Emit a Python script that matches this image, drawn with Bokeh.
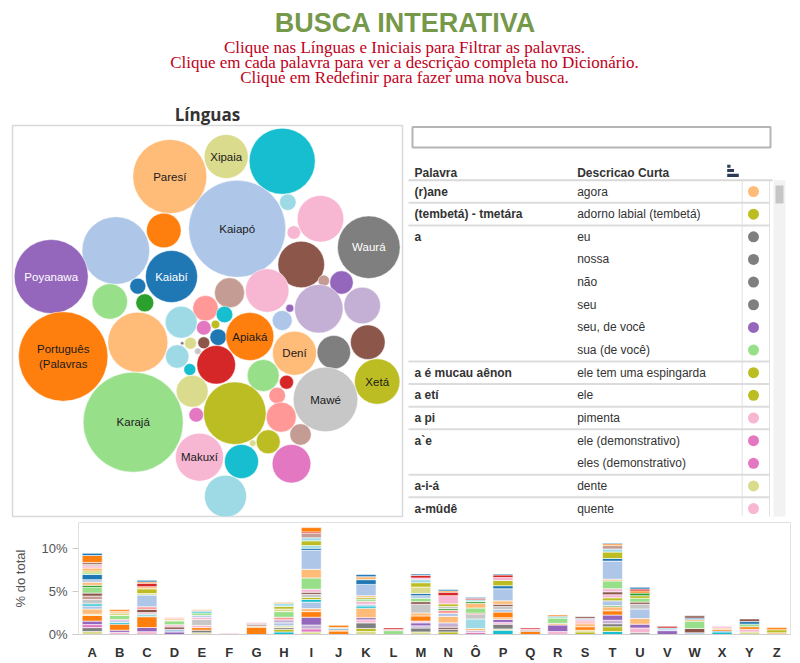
from bokeh.plotting import figure
from bokeh.layouts import column, row
from bokeh.models import Range1d, FixedTicker, PrintfTickFormatter, ColumnDataSource
from bokeh.core.properties import value
from bokeh.embed import file_html
from bokeh.resources import INLINE

# ---------------- palette (Tableau 20) ----------------
T20 = {"b": "#1f77b4", "lb": "#aec7e8", "o": "#ff7f0e", "lo": "#ffbb78",
       "g": "#2ca02c", "lg": "#98df8a", "r": "#d62728", "lr": "#ff9896",
       "p": "#9467bd", "lp": "#c5b0d5", "br": "#8c564b", "lbr": "#c49c94",
       "pk": "#e377c2", "lpk": "#f7b6d2", "gr": "#7f7f7f", "lgr": "#c7c7c7",
       "ol": "#bcbd22", "lol": "#dbdb8d", "t": "#17becf", "lt": "#9edae5"}

# ---------------- texts ----------------
title_text = "BUSCA INTERATIVA"
subtitle_lines = ["Clique nas Línguas e Iniciais para Filtrar as palavras.",
                  "Clique em cada palavra para ver a descrição completa no Dicionário.",
                  "Clique em Redefinir para fazer uma nova busca."]
bubble_title = "Línguas"

# ---------------- bubble chart data ----------------
bubble_names = ["Paresí", "Xipaia", "", "", "Kaiapó", "", "", "Waurá", "", "", "",
                "", "", "Poyanawa", "Kaiabí", "", "", "", "", "", "", "", "", "", "",
                "", "", "Português\n(Palavras", "", "", "", "", "", "", "", "", "", "",
                "Apiaká", "", "Dení", "", "", "", "", "Xetá", "Mawé", "", "", "", "",
                "Karajá", "", "", "", "", "Makuxí", "", "", ""]
bubble_cx = [169.3, 225.7, 281.7, 287.3, 236.7, 320, 293.3, 368.3, 300.7, 323.3, 341,
             115.3, 163.3, 50.7, 171, 137.3, 109.3, 144.3, 229, 266.7, 318.3, 361.7, 289.3, 205, 224,
             180.7, 137.3, 62.7, 203.3, 215, 217.7, 203.3, 190, 181.7, 197.3, 176.7, 189.3, 215.7,
             249.3, 281.7, 294, 333.3, 367.3, 262.7, 286, 376.7, 325, 276.7, 280.7, 191.7, 195.7,
             132.7, 234.3, 300, 267.7, 252.3, 199, 241, 291, 225]
bubble_cy = [176, 156, 160.7, 201.7, 228.3, 218.3, 232, 246.7, 264, 280.3, 282,
             250, 230, 276, 276, 285.7, 301, 302.3, 292.3, 290, 308.3, 305, 307.7, 307.7, 314,
             321.7, 341.7, 356, 327.3, 324, 336.7, 342.3, 342.7, 342.7, 350.7, 356, 369, 364.3,
             336, 320, 352.7, 351.7, 341.7, 375, 381.7, 381, 399, 395, 416.7, 390.7, 414.3,
             421.7, 412.7, 434, 441.3, 442.7, 456.7, 461, 463.3, 495.7]
bubble_r = [37, 22, 33, 8.3, 48.5, 23.3, 6.7, 31.3, 23.3, 5.7, 11.7,
            33.8, 17.3, 37, 26, 8, 17.7, 9, 15, 21.7, 24.3, 18.3, 4, 12.7, 8.3,
            16, 30, 44.7, 7.3, 4.3, 8.3, 6, 6, 1.7, 3.3, 11.7, 6, 19.3,
            24, 10, 22, 16.7, 17.3, 16, 7, 22.7, 32.3, 8.3, 15, 16, 7.3,
            50, 31.3, 10.7, 12, 3.3, 24, 17, 19.3, 21]
bubble_col = ["lo", "lol", "t", "lt", "lb", "lpk", "lpk", "gr", "br", "lbr", "p",
              "lb", "o", "p", "b", "b", "lg", "g", "lbr", "lpk", "lp", "lp", "p", "lr", "t",
              "lt", "lo", "o", "pk", "ol", "b", "br", "lol", "gr", "lgr", "lt", "t", "r",
              "o", "lb", "lo", "gr", "br", "lg", "r", "ol", "lgr", "lr", "lr", "lol", "pk",
              "lg", "ol", "lbr", "ol", "lol", "lpk", "t", "pk", "lt"]
white_labels = {"Poyanawa", "Kaiabí", "Waurá"}

# ---------------- table data ----------------
table_header = ["Palavra", "Descricao Curta"]
palavras = ["(r)ane", "(tembetá) - tmetára", "a", "", "", "", "", "",
            "a é mucau aênon", "a etí", "a pi", "a`e", "", "a-i-á", "a-mûdê"]
descricoes = ["agora", "adorno labial (tembetá)", "eu", "nossa", "não", "seu",
              "seu, de você", "sua (de você)", "ele tem uma espingarda", "ele",
              "pimenta", "ele (demonstrativo)", "eles (demonstrativo)", "dente", "quente"]
row_lang_col = ["lo", "ol", "gr", "gr", "gr", "gr", "p", "lg", "ol", "ol",
                "lpk", "pk", "pk", "lol", "lpk"]

# ---------------- bar chart data (% do total, stacked by language) ----------------
letters = ["A", "B", "C", "D", "E", "F", "G", "H", "I", "J", "K", "L", "M",
           "N", "Ô", "P", "Q", "R", "S", "T", "U", "V", "W", "X", "Y", "Z"]
bar_segments = {
    "A": [("lol", .35), ("gr", .45), ("pk", .35), ("p", .4), ("o", .65), ("lol", .15), ("lo", .6),
          ("lb", .35), ("t", .25), ("lgr", .5), ("lbr", .4), ("br", .35), ("lg", .65), ("g", .25),
          ("lo", .35), ("lb", .3), ("b", .6), ("lg", .2), ("ol", .2), ("lo", .35), ("lpk", .25),
          ("lbr", .2), ("br", .2), ("o", .8), ("b", .25)],
    "B": [("lpk", .25), ("p", .25), ("o", .7), ("t", .2), ("lb", .2), ("pk", .15), ("lg", .45),
          ("lol", .3), ("lo", .2), ("o", .2)],
    "C": [("lpk", .33), ("p", .48), ("o", 1.25), ("lt", .3), ("lpk", .18), ("br", .37), ("lr", .3),
          ("lb", 1.35), ("lol", .18), ("ol", .55), ("lo", .25), ("r", .4), ("o", .15), ("b", .18)],
    "D": [("p", .3), ("lb", .3), ("br", .28), ("lpk", .25), ("lg", .45), ("lol", .1), ("lo", .17),
          ("lr", .12)],
    "E": [("lol", .2), ("gr", .3), ("o", .3), ("lpk", .25), ("lgr", .7), ("lpk", .25), ("lb", .22),
          ("lg", .28), ("t", .15), ("b", .1), ("lo", .15)],
    "F": [("lpk", .14)],
    "G": [("o", .85), ("lo", .1), ("lbr", .2), ("gr", .12), ("r", .08), ("lpk", .07)],
    "H": [("t", .3), ("ol", .3), ("gr", .2), ("lol", .2), ("lb", .35), ("lp", .35), ("lr", .3),
          ("lg", .65), ("lol", .3), ("ol", .3), ("lt", .2), ("t", .15), ("o", .1)],
    "I": [("lol", .3), ("pk", .35), ("lp", .45), ("p", .9), ("o", .65), ("lo", .35), ("lb", .75),
          ("t", .3), ("ol", .25), ("lgr", .35), ("br", .25), ("lpk", .35), ("lg", 1.3), ("lo", 1.0),
          ("lb", 2.2), ("b", .25), ("lt", .3), ("ol", .55), ("lt", .35), ("lbr", .5), ("r", .18),
          ("o", .5)],
    "J": [("o", .4), ("lo", .15), ("b", .15), ("lt", .1), ("o", .26)],
    "K": [("lol", .35), ("ol", .35), ("gr", .65), ("lpk", .35), ("p", .25), ("lo", 1.1), ("t", .25),
          ("lb", .2), ("lpk", .35), ("lg", .25), ("ol", .2), ("lo", .2), ("lb", 1.3), ("b", .55),
          ("lo", .35), ("b", .24)],
    "L": [("lg", .45), ("lbr", .13), ("r", .18)],
    "M": [("lol", .3), ("gr", .45), ("lp", .25), ("p", .35), ("lpk", .2), ("o", .6), ("lo", .35),
          ("lgr", 1.0), ("br", .3), ("lg", .4), ("lb", .3), ("b", .25), ("lol", .75), ("ol", .5),
          ("lt", .35), ("lpk", .2), ("r", .3), ("b", .15)],
    "N": [("ol", .3), ("gr", .3), ("br", .25), ("lp", .5), ("lo", .75), ("lb", .35), ("lr", .35),
          ("g", .2), ("lgr", .25), ("ol", .3), ("lpk", .95), ("r", .4), ("o", .15), ("b", .15)],
    "Ô": [("pk", .25), ("lp", .2), ("lo", .25), ("lt", 1.1), ("lgr", .55), ("r", .12), ("lg", .6),
          ("lo", .55), ("g", .2), ("lt", .2), ("r", .18), ("b", .1)],
    "P": [("t", .5), ("lol", .15), ("gr", .55), ("lpk", .2), ("p", .35), ("lo", .2), ("o", .65),
          ("lb", .3), ("lgr", .35), ("br", .25), ("lo", .4), ("lb", 1.4), ("b", .35), ("ol", .6),
          ("lpk", .35), ("r", .3), ("b", .1)],
    "Q": [("o", .35), ("br", .15), ("lpk", .1), ("r", .16)],
    "R": [("lpk", .35), ("p", .75), ("lo", .2), ("lg", .6), ("t", .12), ("b", .1), ("o", .15)],
    "S": [("ol", .3), ("lol", .2), ("o", .4), ("lo", .35), ("lr", .2), ("lpk", .25), ("lb", .15),
          ("br", .2)],
    "T": [("t", .35), ("ol", .55), ("gr", .35), ("lp", .4), ("p", .6), ("o", .5), ("lo", .45),
          ("g", .15), ("lb", .55), ("ol", .35), ("lpk", .35), ("br", .35), ("lpk", .35), ("lg", .9),
          ("lo", .2), ("lb", 2.1), ("b", .3), ("ol", .75), ("lt", .35), ("lbr", .4), ("o", .2),
          ("b", .1)],
    "U": [("gr", .2), ("lpk", .55), ("p", .45), ("lo", .65), ("lb", 1.1), ("lgr", .55), ("br", .25),
          ("lg", .45), ("ol", .3), ("g", .3), ("o", .25), ("r", .22), ("b", .2)],
    "V": [("p", .45), ("lb", .2), ("t", .1), ("r", .2)],
    "W": [("lb", .2), ("br", .5), ("lg", .85), ("lo", .2), ("b", .15), ("br", .26)],
    "X": [("t", .3), ("b", .1), ("o", .2), ("lo", .15), ("lpk", .2)],
    "Y": [("lol", .3), ("lpk", .3), ("o", .3), ("lg", .3), ("b", .3), ("br", .3)],
    "Z": [("lo", .2), ("ol", .35), ("o", .25)],
}
y_ticks = [0, 5, 10]

SANS = value("Liberation Sans")

# ================= header =================
# (column aligns frames of direct children: give header the same side borders as the bar chart)
hdr = figure(width=800, height=100, x_range=Range1d(78, 790), y_range=Range1d(100, 0),
             x_axis_location=None, y_axis_location=None, toolbar_location=None, title=None,
             output_backend="svg", min_border_left=78, min_border_right=10,
             min_border_top=0, min_border_bottom=0, outline_line_color=None)
hdr.grid.visible = False
hdr.text(x=[405], y=[22], text=[title_text], text_font=SANS, text_font_style="bold",
         text_font_size="27px", text_color="#76984a", text_align="center", text_baseline="middle")
hdr.text(x=[404] * len(subtitle_lines), y=[47 + 15 * i for i in range(len(subtitle_lines))],
         text=subtitle_lines, text_font=value("Liberation Serif"), text_font_size="17px",
         text_color="#c0001a", text_align="center", text_baseline="middle")

# ================= bubbles =================
bub = figure(width=408, height=420, x_range=Range1d(12, 402), y_range=Range1d(516, 125),
             x_axis_location=None, y_axis_location=None, toolbar_location=None,
             output_backend="svg", min_border_left=12, min_border_right=6,
             min_border_top=25, min_border_bottom=4,
             outline_line_color="#d9d9d9", outline_line_width=1.5)
bub.grid.visible = False
bub.title.text = bubble_title
bub.title.align = "center"
bub.title.text_font = "Open Sans"
bub.title.text_font_size = "17px"
bub.title.text_font_style = "bold"
bub.title.text_color = "#333333"
bub.title.standoff = 0
bub.title.offset = 0
bsrc = ColumnDataSource(dict(x=bubble_cx, y=bubble_cy, r=bubble_r,
                             c=[T20[k] for k in bubble_col], name=bubble_names,
                             tc=["white" if n in white_labels else "#1a1a1a" for n in bubble_names]))
bub.circle(x="x", y="y", radius="r", fill_color="c", line_color="white", line_width=0.5, source=bsrc)
bub.text(x="x", y="y", text="name", text_color="tc", text_font=SANS, text_font_size="11.5px",
         text_align="center", text_baseline="middle", text_line_height=1.25, source=bsrc)

# ================= table =================
# (row aligns frames vertically: same top/bottom borders as the bubble chart)
tbl = figure(width=392, height=420, x_range=Range1d(408, 800), y_range=Range1d(516, 125),
             x_axis_location=None, y_axis_location=None, toolbar_location=None, title=None,
             output_backend="svg", min_border_left=0, min_border_right=0,
             min_border_top=25, min_border_bottom=4, outline_line_color=None)
tbl.grid.visible = False
# search box
tbl.quad(left=[412], right=[770], top=[126.5], bottom=[147], fill_color="white",
         line_color="#b5b5b5", line_width=2)
ROW0, RH = 191.0, 22.65
ys = [ROW0 + RH * i for i in range(len(palavras))]
top_line = ROW0 - RH / 2
# scroll track & thumb
tbl.quad(left=[773], right=[785], top=[top_line], bottom=[520], fill_color="#f2f2f2", line_color=None)
tbl.quad(left=[775], right=[783], top=[185], bottom=[203], fill_color="#c6c6c6", line_color=None)
# column lines
tbl.segment(x0=[741.7, 769], y0=[top_line] * 2, x1=[741.7, 769], y1=[520] * 2,
            line_color="#e2e2e2", line_width=1)
# header
tbl.text(x=[414, 576.7], y=[172.5] * 2, text=table_header, text_font=SANS, text_font_style="bold",
         text_font_size="12px", text_color="#333333", text_baseline="middle")
tbl.segment(x0=[406], y0=[top_line], x1=[772], y1=[top_line], line_color="#d9d9d9", line_width=2)
# sort icon
tbl.quad(left=[726.7] * 3, right=[730, 733.5, 738.3], top=[164.3, 168.5, 173.2],
         bottom=[167.3, 171.5, 176.4], fill_color="#2d3b57", line_color=None)
# group separators
sep_y = [ys[i] - RH / 2 for i in range(1, len(palavras)) if palavras[i] != ""]
tbl.segment(x0=[406] * len(sep_y), y0=sep_y, x1=[769] * len(sep_y), y1=sep_y,
            line_color="#dcdcdc", line_width=2)
tsrc = ColumnDataSource(dict(y=ys, w=palavras, d=descricoes, c=[T20[k] for k in row_lang_col]))
tbl.text(x=414, y="y", text="w", text_font=SANS, text_font_style="bold", text_font_size="12px",
         text_color="#333333", text_baseline="middle", source=tsrc)
tbl.text(x=576.7, y="y", text="d", text_font=SANS, text_font_size="12px",
         text_color="#333333", text_baseline="middle", source=tsrc)
tbl.scatter(x=753, y="y", size=11, fill_color="c", line_color=None, source=tsrc)

# ================= stacked bars =================
xs, bots, tops, cols = [], [], [], []
for L in letters:
    acc = 0.0
    for ck, v in bar_segments[L]:
        xs.append(L); bots.append(acc); tops.append(acc + v); cols.append(T20[ck])
        acc += v
bars = figure(width=800, height=142, x_range=letters, y_range=Range1d(0, 12.97),
              toolbar_location=None, output_backend="svg", title=None,
              min_border_left=78, min_border_right=10, min_border_top=2, min_border_bottom=22,
              outline_line_color="#e0e0e0")
bars.grid.visible = False
bars.vbar(x=xs, bottom=bots, top=tops, width=0.73, fill_color=cols,
          line_color="white", line_width=0.6)
xa = bars.xaxis[0]
xa.major_label_text_font = "Liberation Sans"
xa.major_label_text_font_style = "bold"
xa.major_label_text_font_size = "13px"
xa.major_label_text_color = "#333333"
xa.major_tick_line_color = None
xa.minor_tick_line_color = None
xa.axis_line_color = "#cfcfcf"
xa.major_label_standoff = 4
ya = bars.yaxis[0]
ya.ticker = FixedTicker(ticks=y_ticks)
ya.formatter = PrintfTickFormatter(format="%d%%")
ya.major_label_text_font = "Liberation Sans"
ya.major_label_text_font_size = "13px"
ya.major_label_text_color = "#555555"
ya.major_tick_out = 6
ya.major_tick_in = 0
ya.major_tick_line_color = "#cccccc"
ya.minor_tick_line_color = None
ya.axis_line_color = None
ya.axis_label = "% do total"
ya.axis_label_text_font = "Liberation Sans"
ya.axis_label_text_font_style = "normal"
ya.axis_label_text_font_size = "13px"
ya.axis_label_text_color = "#555555"
ya.axis_label_standoff = 10

layout = column(hdr, row(bub, tbl), bars)
open("out.html", "w").write(file_html(layout, INLINE))
